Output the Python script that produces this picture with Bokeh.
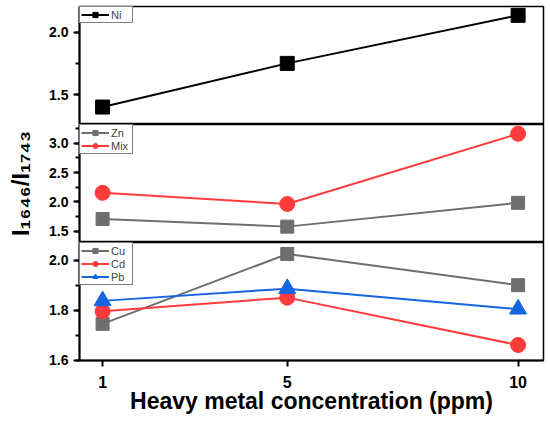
from bokeh.plotting import figure
from bokeh.layouts import column
from bokeh.models import Range1d, FixedTicker, SingleIntervalTicker, PrintfTickFormatter, Legend, LegendItem
from bokeh.embed import file_html
from bokeh.resources import INLINE

# concentrations (ppm)
conc = [1, 5, 10]

# I1646/I1743 ratios
ni = [1.40, 1.75, 2.135]
zn = [1.71, 1.58, 1.985]
mix = [2.155, 1.965, 3.16]
cu = [1.745, 2.025, 1.90]
cd = [1.795, 1.85, 1.66]
pb = [1.837, 1.886, 1.804]

BLACK = "#000000"
GRAY = "#6e6e6e"
RED = "#ff3b3b"
BLUE = "#1565e0"
FONT = "Liberation Sans"

x_range = Range1d(0.5, 10.55)


def make_panel(y0, y1, h, interval, bottom=False):
    p = figure(frame_width=464, frame_height=h,
               x_range=x_range, y_range=Range1d(y0, y1),
               output_backend="svg", toolbar_location=None,
               min_border_left=79, min_border_right=5,
               min_border_top=0, min_border_bottom=0)
    p.xgrid.visible = False
    p.ygrid.visible = False
    p.outline_line_color = "black"
    p.outline_line_width = 1.5
    p.background_fill_color = "white"
    p.border_fill_color = "white"

    p.yaxis.ticker = SingleIntervalTicker(interval=interval, num_minor_ticks=2)
    p.yaxis.formatter = PrintfTickFormatter(format="%.1f")
    for ax in (p.yaxis[0], p.xaxis[0]):
        ax.axis_line_width = 2
        ax.axis_line_color = "black"
        ax.major_tick_line_width = 2
        ax.minor_tick_line_width = 2
        ax.major_tick_out = 6
        ax.major_tick_in = 0
        ax.minor_tick_out = 4
        ax.minor_tick_in = 0
        ax.major_label_text_font = FONT
        ax.major_label_text_font_style = "bold"
        ax.major_label_text_font_size = "14px"
        ax.major_label_text_color = "black"
    p.xaxis.ticker = FixedTicker(ticks=conc, minor_ticks=[])
    if not bottom:
        p.xaxis.visible = False
    return p


def add_series(p, ys, color, marker, size):
    r1 = p.line(conc, ys, line_color=color, line_width=2)
    r2 = p.scatter(conc, ys, marker=marker, size=size, fill_color=color, line_color=color)
    return [r1, r2]


def add_legend(p, items):
    leg = Legend(items=[LegendItem(label=lab, renderers=rs) for lab, rs in items],
                 location="top_left", margin=0, padding=1, spacing=0,
                 label_text_font=FONT, label_text_font_size="11px",
                 label_height=13, glyph_height=13, glyph_width=28,
                 label_standoff=2,
                 border_line_color="black", border_line_width=1,
                 background_fill_alpha=1.0)
    p.add_layout(leg)


# top: Ni
p1 = make_panel(1.26, 2.206, 118, 0.5)
p1.min_border_top = 6
add_legend(p1, [("Ni", add_series(p1, ni, BLACK, "square", 14))])

# middle: Zn, Mix
p2 = make_panel(1.31, 3.317, 118, 0.5)
add_legend(p2, [("Zn", add_series(p2, zn, GRAY, "square", 13)),
                ("Mix", add_series(p2, mix, RED, "circle", 15))])
p2.yaxis.axis_label = "I₁₆₄₆/I₁₇₄₃"
p2.yaxis.axis_label_text_font = FONT
p2.yaxis.axis_label_text_font_style = "bold"
p2.yaxis.axis_label_text_font_size = "24px"
p2.yaxis.axis_label_text_color = "black"
p2.yaxis.axis_label_standoff = 12

# bottom: Cu, Cd, Pb
p3 = make_panel(1.598, 2.071, 118, 0.2, bottom=True)
p3.min_border_bottom = 60
add_legend(p3, [("Cu", add_series(p3, cu, GRAY, "square", 13)),
                ("Cd", add_series(p3, cd, RED, "circle", 15)),
                ("Pb", add_series(p3, pb, BLUE, "triangle", 17))])
p3.xaxis.axis_label = "Heavy metal concentration (ppm)"
p3.xaxis.axis_label_text_font = FONT
p3.xaxis.axis_label_text_font_style = "bold"
p3.xaxis.axis_label_text_font_size = "23px"
p3.xaxis.axis_label_text_color = "black"
p3.xaxis.axis_label_standoff = -3
p3.xaxis.major_label_standoff = 9
p3.xaxis.major_label_text_font_size = "16px"

layout = column(p1, p2, p3, spacing=0)

open("out.html", "w").write(file_html(layout, INLINE))
